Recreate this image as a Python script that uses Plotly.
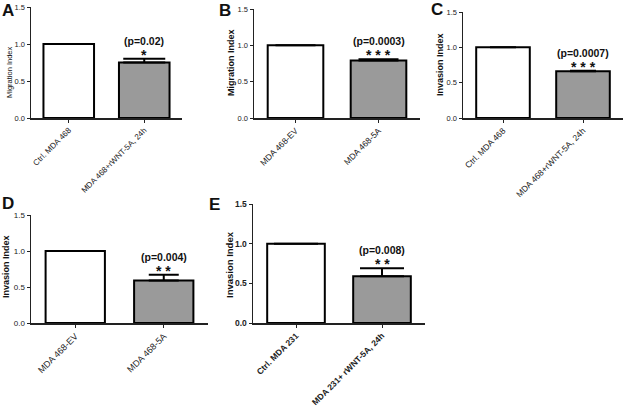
import plotly.graph_objects as go

W, H = 624, 409

# ---- data ----
cats_A = ["Ctrl. MDA 468", "MDA 468+rWNT-5A, 24h"]
vals_A = [1.0, 0.75]
err_A = [None, 0.05]
p_A = "(p=0.02)"
star_A = "*"

cats_B = ["MDA 468-EV", "MDA 468-5A"]
vals_B = [1.0, 0.79]
err_B = [None, 0.02]
p_B = "(p=0.0003)"
star_B = "* * *"

cats_C = ["Ctrl. MDA 468", "MDA 468+rWNT-5A, 24h"]
vals_C = [1.0, 0.66]
err_C = [None, 0.01]
p_C = "(p=0.0007)"
star_C = "* * *"

cats_D = ["MDA 468-EV", "MDA 468-5A"]
vals_D = [1.0, 0.59]
err_D = [None, 0.08]
p_D = "(p=0.004)"
star_D = "* *"

cats_E = ["Ctrl. MDA 231", "MDA 231+ rWNT-5A, 24h"]
vals_E = [1.0, 0.59]
err_E = [None, 0.10]
p_E = "(p=0.008)"
star_E = "* *"

ytitles = ["Migration Index", "Migration Index", "Invasion Index", "Invasion Index", "Invasion Index"]
letters = ["A", "B", "C", "D", "E"]
yticks = [0, 0.5, 1.0, 1.5]
yticklabels = ["0.0", "0.5", "1.0", "1.5"]

# ---- layout (pixel geometry) ----
panels = [
    dict(cats=cats_A, vals=vals_A, err=err_A, p=p_A, star=star_A,
         x0=31, x1=182, yt=7, yb=118, ew=21, title_xy=(9, 72), tfont=7.5, tbold=False,
         letter_xy=(8, 10), tickfs=7.5, xtickfs=8, bold_ticks=False),
    dict(cats=cats_B, vals=vals_B, err=err_B, p=p_B, star=star_B,
         x0=254, x1=420, yt=9, yb=118, ew=20, title_xy=(231, 63), tfont=9, tbold=True,
         letter_xy=(225, 10), tickfs=7.5, xtickfs=8.5, bold_ticks=False),
    dict(cats=cats_C, vals=vals_C, err=err_C, p=p_C, star=star_C,
         x0=463, x1=623, yt=12, yb=118, ew=13, title_xy=(440, 65), tfont=9, tbold=True,
         letter_xy=(437, 9), tickfs=7.5, xtickfs=8.5, bold_ticks=False),
    dict(cats=cats_D, vals=vals_D, err=err_D, p=p_D, star=star_D,
         x0=31, x1=208, yt=215, yb=323, ew=15, title_xy=(6, 267), tfont=9, tbold=True,
         letter_xy=(8, 203), tickfs=8, xtickfs=9, bold_ticks=False),
    dict(cats=cats_E, vals=vals_E, err=err_E, p=p_E, star=star_E,
         x0=253, x1=425, yt=204, yb=323, ew=22, title_xy=(229, 264), tfont=9.5, tbold=True,
         letter_xy=(214, 204), tickfs=8.5, xtickfs=8.5, bold_ticks=True),
]

FONT = "Liberation Sans, Arial, sans-serif"
fig = go.Figure()
annotations = []
layout = dict(width=W, height=H, margin=dict(l=0, r=0, t=0, b=0, autoexpand=False),
              paper_bgcolor="white", plot_bgcolor="white", showlegend=False)

for i, pn in enumerate(panels):
    n = i + 1
    xa = "x" if n == 1 else f"x{n}"
    ya = "y" if n == 1 else f"y{n}"
    xkey = "xaxis" if n == 1 else f"xaxis{n}"
    ykey = "yaxis" if n == 1 else f"yaxis{n}"
    xs = list(range(len(pn["cats"])))
    fig.add_trace(go.Bar(
        x=xs, y=pn["vals"], xaxis=xa, yaxis=ya, width=0.67,
        marker=dict(color=["white", "#9a9a9a"], line=dict(color="black", width=2)),
        error_y=dict(type="data", symmetric=False,
                     array=[e if e is not None else 0 for e in pn["err"]],
                     arrayminus=[0 for _ in pn["err"]],
                     color="black", thickness=2, width=pn["ew"],
                     visible=True),
        hoverinfo="skip",
    ))
    tickfont = dict(family=FONT, size=pn["tickfs"], color="#222")
    xtickfont = dict(family=FONT, size=pn["xtickfs"], color="#222")
    if pn["bold_ticks"]:
        tickfont["weight"] = "bold"
        xtickfont["weight"] = "bold"
    layout[xkey] = dict(domain=[pn["x0"] / W, pn["x1"] / W], anchor=ya,
                        range=[-0.5, 1.5], tickmode="array", tickvals=xs,
                        ticktext=pn["cats"], tickangle=-45, showline=True,
                        linecolor="#222", linewidth=1.5, ticks="outside",
                        ticklen=3, tickcolor="#222", tickwidth=1,
                        showgrid=False, zeroline=False, tickfont=xtickfont,
                        fixedrange=True, automargin=False)
    layout[ykey] = dict(domain=[1 - pn["yb"] / H, 1 - pn["yt"] / H], anchor=xa,
                        range=[0, 1.5], tickmode="array", tickvals=yticks,
                        ticktext=yticklabels, showline=True, linecolor="#222",
                        linewidth=1.5, ticks="outside", ticklen=3,
                        tickcolor="#222", tickwidth=1, showgrid=False,
                        zeroline=False, tickfont=tickfont, fixedrange=True,
                        automargin=False)
    top = pn["vals"][1] + (pn["err"][1] or 0)
    annotations.append(dict(x=1, y=top, xref=xa, yref=ya, text=pn["p"],
                            showarrow=False, yanchor="bottom", yshift=10,
                            font=dict(family=FONT, size=10.5, color="#111", weight="bold")))
    annotations.append(dict(x=1, y=top, xref=xa, yref=ya, text=pn["star"],
                            showarrow=False, yanchor="bottom", yshift=-6,
                            font=dict(family=FONT, size=14, color="#111", weight="bold")))
    tx, ty = pn["title_xy"]
    tf = dict(family=FONT, size=pn["tfont"], color="#111")
    if pn["tbold"]:
        tf["weight"] = "bold"
    annotations.append(dict(x=tx / W, y=1 - ty / H, xref="paper", yref="paper",
                            text=ytitles[i], textangle=-90, showarrow=False,
                            xanchor="center", yanchor="middle", font=tf))
    lx, ly = pn["letter_xy"]
    annotations.append(dict(x=lx / W, y=1 - ly / H, xref="paper", yref="paper",
                            text=letters[i], showarrow=False, xanchor="center",
                            yanchor="middle",
                            font=dict(family=FONT, size=17, color="#111", weight="bold")))

layout["annotations"] = annotations
fig.update_layout(**layout)
fig.write_html("out.html", config={"displayModeBar": False, "staticPlot": True},
               post_script="document.body.style.margin='0';document.body.style.overflow='hidden';")
